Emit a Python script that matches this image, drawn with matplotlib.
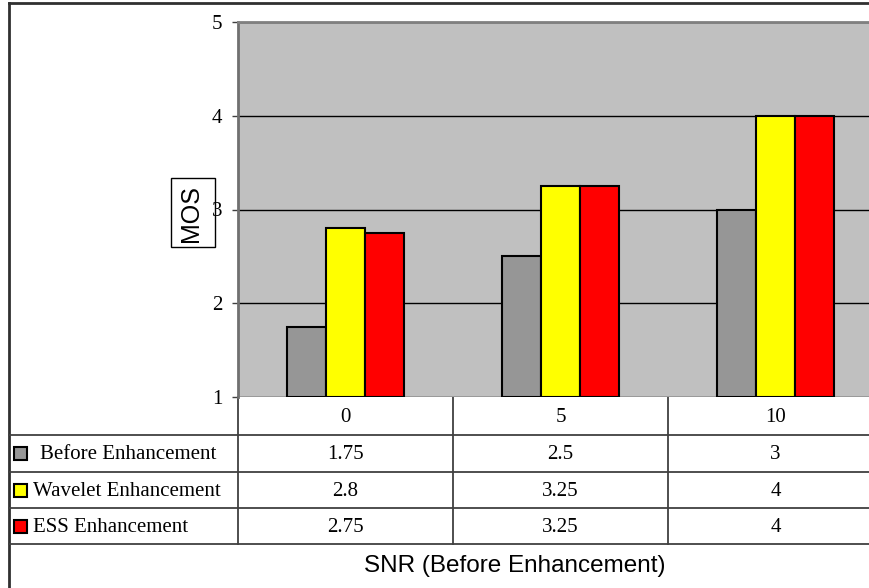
import matplotlib.pyplot as plt
import matplotlib.transforms as mtransforms
import numpy as np

# chart data
snr_levels = ['0', '5', '10']
series_names = ['Before Enhancement', 'Wavelet Enhancement', 'ESS Enhancement']
before = [1.75, 2.5, 3]
wavelet = [2.8, 3.25, 4]
ess = [2.75, 3.25, 4]
series_values = [before, wavelet, ess]
series_colors = ['#969696', '#FFFF00', '#FF0000']
table_labels = ['1.75', '2.5', '3'], ['2.8', '3.25', '4'], ['2.75', '3.25', '4']

W, H = 870, 588
fig = plt.figure(figsize=(W / 100, H / 100), dpi=100)
fig.patch.set_facecolor('white')

# plot area in pixel terms (extends past the right edge like the original)
left, right, top, bottom = 238, 883, 22, 397
ax = fig.add_axes([left / W, 1 - bottom / H, (right - left) / W, (bottom - top) / H])
ax.set_facecolor('#C0C0C0')

x = np.arange(len(snr_levels)) + 0.5
bw = 39 / 215
for i, (vals, col) in enumerate(zip(series_values, series_colors)):
    v = np.array(vals)
    ax.bar(x + (i - 1) * bw, v - 1, bw, bottom=1, color=col,
           edgecolor='black', linewidth=1.5, zorder=3)

ax.set_xlim(0, len(snr_levels))
ax.set_ylim(1, 5)
ax.set_yticks([1, 2, 3, 4, 5])
ax.set_xticks([])
ax.yaxis.grid(True, color='black', linewidth=1)
ax.set_axisbelow(True)
for s in ['right', 'bottom']:
    ax.spines[s].set_visible(False)
ax.spines['left'].set_color('#707070')
ax.spines['left'].set_linewidth(2)
ax.spines['top'].set_color('#808080')
ax.spines['top'].set_linewidth(2)
ax.tick_params(axis='y', length=4.3, width=1, color='#404040', pad=7,
               labelsize=15, labelfontfamily='Liberation Serif')

# overlay for the data table, pixel coordinates from the top left
ov = fig.add_axes([0, 0, 1, 1], zorder=-1)
ov.set_xlim(0, W)
ov.set_ylim(H, 0)
ov.axis('off')
bt = mtransforms.blended_transform_factory(ax.transData, ov.transData)

line_col = '#404040'
# outer frame
ov.plot([9, W], [3, 3], color='#303030', lw=2)
ov.plot([9, 9], [3, H], color='#303030', lw=2)

row_edges = [397, 435, 472, 508, 544]
for y in row_edges[1:]:
    ov.plot([9, W], [y, y], color=line_col, lw=1.3)
ov.plot([left, left], [397, 544], color=line_col, lw=1.3)
for k in range(1, len(snr_levels)):
    ov.plot([k, k], [397, 544], color=line_col, lw=1.3, transform=bt)

serif = 'Liberation Serif'
# header row
for k, lab in enumerate(snr_levels):
    ov.text(x[k], 417, lab, transform=bt, ha='center', va='center',
            fontsize=15, family=serif, clip_on=False)

# rows
for r, (name, col, labs) in enumerate(zip(series_names, series_colors, table_labels)):
    yc = (row_edges[r + 1] + row_edges[r + 2]) / 2
    ov.add_patch(plt.Rectangle((14, yc - 6.5), 13, 13, facecolor=col,
                               edgecolor='black', lw=1.5))
    ov.text(40 if r == 0 else 33, yc + 1, name, ha='left', va='center',
            fontsize=15, family=serif)
    for k, lab in enumerate(labs):
        ov.text(x[k], yc + 1, lab, transform=bt, ha='center', va='center',
                fontsize=15, family=serif)

ov.text(515, 566, 'SNR (Before Enhancement)', ha='center', va='center',
        fontsize=17.5, family='Liberation Sans')

# y axis title in a box
box = ov.add_patch(plt.Rectangle((171, 178), 44, 69, facecolor='none',
                                 edgecolor='black', lw=1))
box.set_clip_on(False)
fig.text(191.5 / W, 1 - 213 / H, 'MOS', rotation=90, ha='center', va='center',
         fontsize=18, family='Liberation Sans')

fig.savefig('out.png', dpi=100)
